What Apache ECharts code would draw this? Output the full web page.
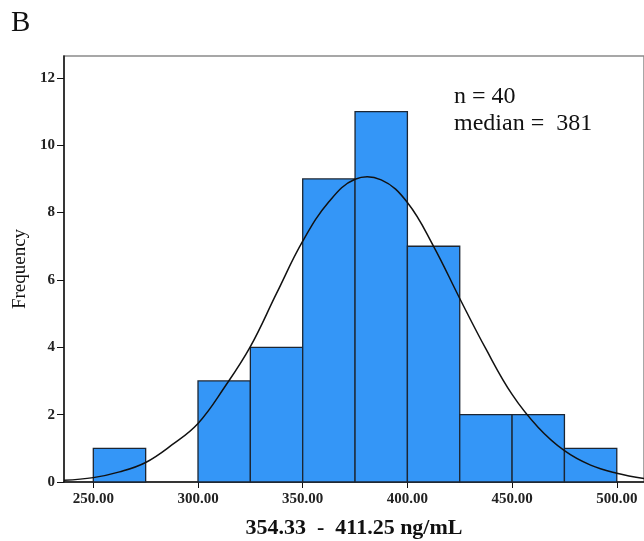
<!DOCTYPE html>
<html><head><meta charset="utf-8">
<script src="https://cdn.jsdelivr.net/npm/echarts@6/dist/echarts.min.js"></script>
<style>html,body{margin:0;padding:0;background:#fff}#c{width:644px;height:541px}</style>
</head><body><div id="c"></div>
<script>
const binStarts = [250, 275, 300, 325, 350, 375, 400, 425, 450, 475];
const binWidth = 25;
const counts = [1, 0, 3, 4, 9, 11, 7, 2, 2, 1];
const xTicks = [250, 300, 350, 400, 450, 500];
const yTicks = [0, 2, 4, 6, 8, 10, 12];
const curveX = [236, 250, 262.5, 275, 287.5, 300, 312.5, 325, 337.5, 350, 362.5, 375, 387.5, 400, 412.5, 425, 437.5, 450, 462.5, 475, 487.5, 500, 513];
const curveY = [0.05, 0.13, 0.3, 0.58, 1.1, 1.74, 2.8, 4.02, 5.6, 7.15, 8.32, 8.99, 8.97, 8.3, 7.0, 5.45, 3.95, 2.6, 1.62, 0.93, 0.5, 0.26, 0.1];

const chart = echarts.init(document.getElementById('c'));
const serif = '"Liberation Serif", "DejaVu Serif", serif';
chart.setOption({
  animation: false,
  grid: {left: 64, top: 56, bottom: 59, right: 0, show: true, borderColor: '#8a8a8a', borderWidth: 1.5, containLabel: false, outerBoundsMode: 'none'},
  graphic: [
    {type: 'text', left: 11, top: 9, style: {text: 'B', font: '29px ' + serif, fill: '#111'}},
    {type: 'text', left: 454, top: 85, style: {text: 'n = 40', font: '24px ' + serif, fill: '#111'}},
    {type: 'text', left: 454, top: 112, style: {text: 'median =  381', font: '24px ' + serif, fill: '#111'}}
  ],
  xAxis: {
    type: 'value', min: 236, max: 513,
    name: '354.33  -  411.25 ng/mL', nameLocation: 'middle', nameGap: 35,
    nameTextStyle: {fontFamily: serif, fontWeight: 'bold', fontSize: 22, color: '#111'},
    axisLine: {show: true, lineStyle: {color: '#111', width: 1.5}},
    axisTick: {show: true, length: 6, customValues: xTicks, lineStyle: {color: '#111'}},
    axisLabel: {customValues: xTicks, formatter: v => v.toFixed(2), fontFamily: serif, fontWeight: 'bold', fontSize: 15, color: '#222', margin: 10},
    splitLine: {show: false}
  },
  yAxis: {
    type: 'value', min: 0, max: 12.65,
    name: 'Frequency', nameLocation: 'middle', nameGap: 34,
    nameTextStyle: {fontFamily: serif, fontSize: 19, color: '#111'},
    axisLine: {show: true, lineStyle: {color: '#111', width: 1.5}},
    axisTick: {show: true, length: 7, customValues: yTicks, lineStyle: {color: '#111'}},
    axisLabel: {customValues: yTicks, fontFamily: serif, fontWeight: 'bold', fontSize: 15, color: '#222', margin: 9},
    splitLine: {show: false}
  },
  series: [
    {
      type: 'custom',
      data: binStarts.map((s, i) => [s, s + binWidth, counts[i]]),
      encode: {x: [0, 1], y: 2},
      renderItem: function (params, api) {
        const c = api.value(2);
        if (!c) return null;
        const p0 = api.coord([api.value(0), 0]);
        const p1 = api.coord([api.value(1), c]);
        return {
          type: 'rect',
          shape: {x: p0[0], y: p1[1], width: p1[0] - p0[0], height: p0[1] - p1[1]},
          style: {fill: '#3496f7', stroke: '#1c2633', lineWidth: 1.3}
        };
      },
      z: 2
    },
    {
      type: 'custom',
      data: [[curveX[0], curveY[0]]],
      encode: {x: 0, y: 1},
      renderItem: function (params, api) {
        const pts = curveX.map((x, i) => api.coord([x, curveY[i]]));
        return {
          type: 'polyline',
          shape: {points: pts, smooth: 0.4},
          style: {stroke: '#111', lineWidth: 1.5, fill: null}
        };
      },
      z: 3
    }
  ]
});
</script></body></html>
